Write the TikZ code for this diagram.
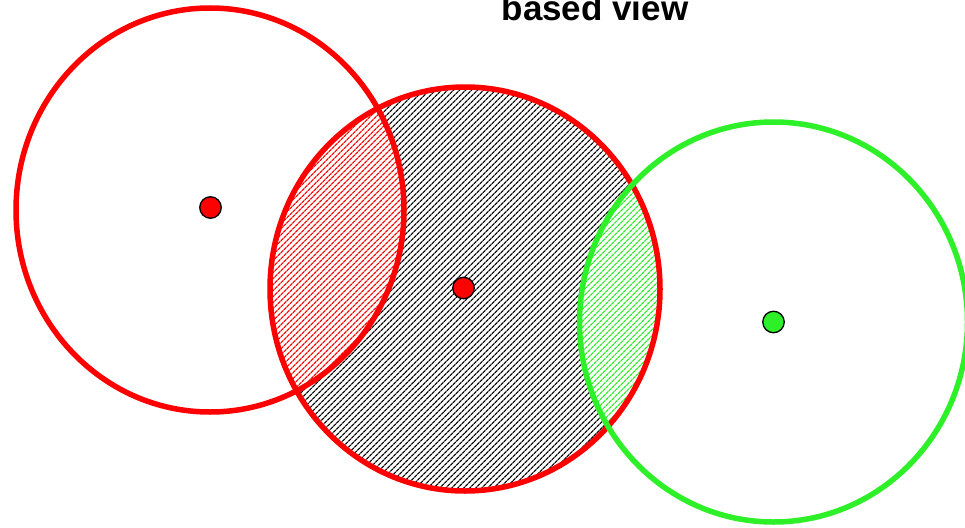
\documentclass[tikz,border=0pt]{standalone}
\usepackage{fontspec}
\setmainfont{Liberation Sans}
\usetikzlibrary{patterns.meta}
\definecolor{cred}{RGB}{255,0,0}
\definecolor{cgreen}{RGB}{45,240,40}
\tikzset{
  ring/.style={line width=5.5pt},
  hatch/.style={pattern={Lines[angle=45,distance=4pt,line width=1.3pt]}},
  dot/.style={circle, draw=black, line width=1.3pt, minimum size=21.5pt, inner sep=0pt},
  titletext/.style={font=\bfseries\fontsize{35}{40}\selectfont, anchor=base}
}
\begin{document}
\begin{tikzpicture}[x=1pt,y=-1pt]
\useasboundingbox (0,0) rectangle (965,527);
\clip (0,0) rectangle (965,527);
\fill[white] (0,0) rectangle (965,527);
% centres
\coordinate (L) at (210,210);
\coordinate (M) at (465,289);
\coordinate (G) at (773.5,322);
% middle hatched disc
\fill[hatch, pattern color=black] (M) ellipse [x radius=195, y radius=202];
% intersection with left circle
\begin{scope}
  \clip (L) ellipse [x radius=194, y radius=202];
  \fill[white] (M) ellipse [x radius=195, y radius=202];
  \fill[hatch, pattern color=cred] (M) ellipse [x radius=195, y radius=202];
\end{scope}
% intersection with green circle
\begin{scope}
  \clip (G) ellipse [x radius=194, y radius=200];
  \fill[white] (M) ellipse [x radius=195, y radius=202];
  \fill[hatch, pattern color=cgreen] (M) ellipse [x radius=195, y radius=202];
\end{scope}
% outlines
\draw[ring, cred] (L) ellipse [x radius=194, y radius=202];
\draw[ring, cred] (M) ellipse [x radius=195, y radius=202];
\draw[ring, cgreen] (G) ellipse [x radius=194, y radius=200];
% centre dots
\node[dot, fill=cred] (dl) at (210.5,207.5) {};
\node[dot, fill=cred] (dm) at (463.5,288) {};
\node[dot, fill=cgreen] (dg) at (773.5,322) {};
% title (cut off at the top edge, as in the reference)
\node[titletext] (title) at (595,21) {based view};
\end{tikzpicture}
\end{document}
